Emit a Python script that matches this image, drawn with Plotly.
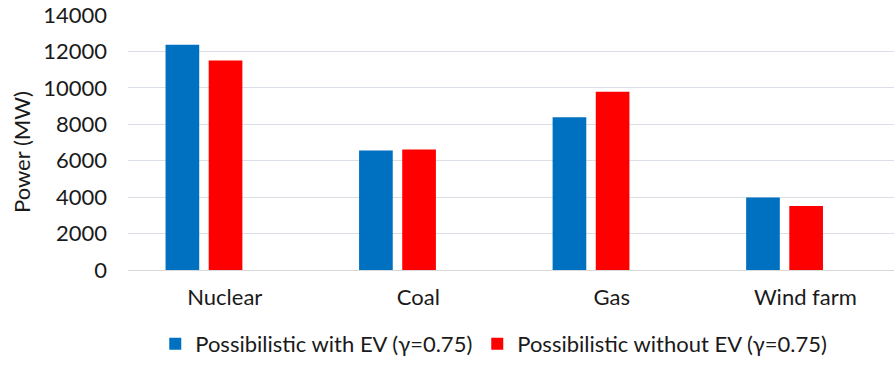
import plotly.graph_objects as go

# Generation mix by source, with and without EV charging
categories = ["Nuclear", "Coal", "Gas", "Wind farm"]
with_ev = [12370, 6560, 8380, 3980]
without_ev = [11500, 6620, 9780, 3520]
series_names = ["Possibilistic with EV (γ=0.75)", "Possibilistic without EV (γ=0.75)"]
y_ticks = [0, 2000, 4000, 6000, 8000, 10000, 12000, 14000]

FONT = "Lato"
TEXT = "#1a1a1a"
SIZE = 22

fig = go.Figure()
fig.add_trace(go.Bar(
    x=categories, y=with_ev, name=series_names[0],
    marker=dict(color="#0070C0", line=dict(width=0)),
    offset=-0.306, width=0.174,
))
fig.add_trace(go.Bar(
    x=categories, y=without_ev, name=series_names[1],
    marker=dict(color="#FF0000", line=dict(width=0)),
    offset=-0.083, width=0.174,
))

fig.update_layout(
    width=894, height=365,
    margin=dict(l=128, r=0, t=15, b=93),
    paper_bgcolor="white", plot_bgcolor="white",
    barmode="overlay",
    font=dict(family=FONT, size=SIZE, color=TEXT),
    showlegend=True,
    legend=dict(
        orientation="h", x=0.4775, xanchor="center", y=-0.208, yanchor="top",
        font=dict(family=FONT, size=SIZE, color=TEXT),
        itemwidth=30, traceorder="normal",
    ),
    xaxis=dict(
        type="category", range=[-0.5, 3.458],
        showgrid=False, showline=True, linecolor="#D9D9D9", linewidth=1,
        ticks="", ticklabelstandoff=8,
        tickfont=dict(family=FONT, size=SIZE, color=TEXT),
    ),
    yaxis=dict(
        range=[0, 14000], tickvals=y_ticks,
        ticktext=[str(v) for v in y_ticks],
        showgrid=True, gridcolor="#D9DEE7", gridwidth=1,
        zeroline=False, showline=False, ticks="",
        ticklabelstandoff=20,
        tickfont=dict(family=FONT, size=SIZE, color=TEXT),
    ),
    annotations=[dict(
        text="Power (MW)", textangle=-90, showarrow=False,
        xref="paper", yref="paper", x=-0.140, y=0.462,
        xanchor="center", yanchor="middle",
        font=dict(family=FONT, size=SIZE, color=TEXT),
    )],
)

fig.write_html("out.html")
